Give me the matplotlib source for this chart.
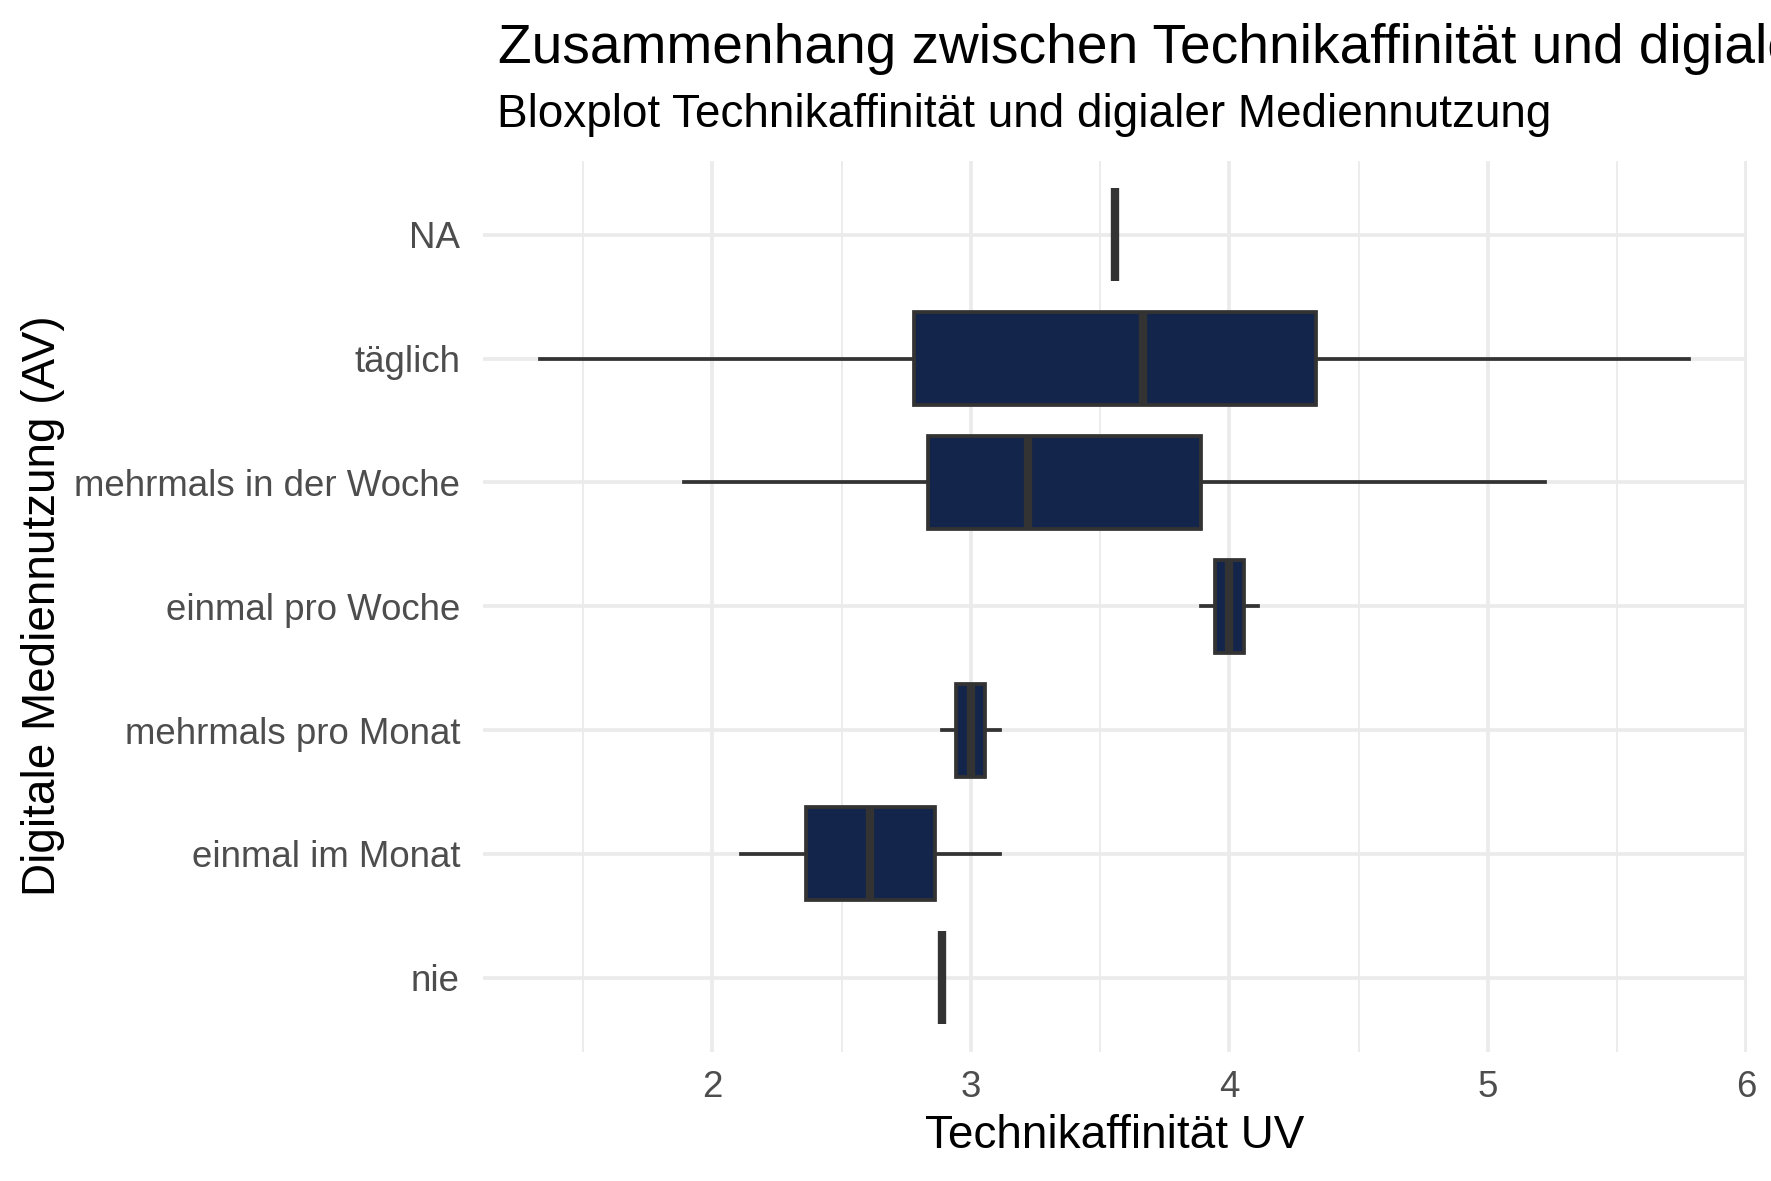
import matplotlib.pyplot as plt
from matplotlib.ticker import MultipleLocator

plt.rcParams['font.family'] = ['Liberation Sans', 'DejaVu Sans']

# === Daten ===
kategorien = ["nie", "einmal im Monat", "mehrmals pro Monat", "einmal pro Woche",
              "mehrmals in der Woche", "täglich", "NA"]
whisk_lo = [2.889, 2.111, 2.889, 3.889, 1.889, 1.333, 3.556]
q1       = [2.889, 2.361, 2.944, 3.944, 2.833, 2.778, 3.556]
median   = [2.889, 2.611, 3.000, 4.000, 3.222, 3.667, 3.556]
q3       = [2.889, 2.861, 3.056, 4.056, 3.889, 4.333, 3.556]
whisk_hi = [2.889, 3.111, 3.111, 4.111, 5.222, 5.778, 3.556]
x_ticks = [2, 3, 4, 5, 6]

titel = "Zusammenhang zwischen Technikaffinität und digialer Mediennutzung"
untertitel = "Bloxplot Technikaffinität und digialer Mediennutzung"

FILL = "#13254A"
EDGE = "#333333"
GRID = "#EBEBEB"

W, H = 1771, 1181
fig = plt.figure(figsize=(W / 300, H / 300), dpi=300)
ax = fig.add_axes([482.6 / W, 1 - 1052 / H, (1746.5 - 482.6) / W, (1052 - 160.5) / H])

stats = []
for i, name in enumerate(kategorien):
    stats.append({"label": name, "whislo": whisk_lo[i], "q1": q1[i], "med": median[i],
                  "q3": q3[i], "whishi": whisk_hi[i], "fliers": []})

ax.bxp(stats, positions=range(1, len(kategorien) + 1), widths=0.75, vert=False,
       patch_artist=True, showcaps=False, showfliers=False,
       boxprops=dict(facecolor=FILL, edgecolor=EDGE, linewidth=0.9),
       whiskerprops=dict(color=EDGE, linewidth=0.9),
       medianprops=dict(color=EDGE, linewidth=2.0, solid_capstyle="butt"))

# Achsen wie theme_minimal
lo, hi = min(whisk_lo), max(whisk_hi)
pad = 0.05 * (hi - lo)
ax.set_xlim(lo - pad, hi + pad)
ax.set_ylim(0.4, len(kategorien) + 0.6)
ax.set_xticks(x_ticks)
ax.xaxis.set_minor_locator(MultipleLocator(0.5))
ax.set_yticks(range(1, len(kategorien) + 1))
ax.set_yticklabels(kategorien)

for s in ax.spines.values():
    s.set_visible(False)
ax.set_axisbelow(True)
ax.grid(True, which="major", color=GRID, linewidth=0.9)
ax.grid(True, which="minor", axis="x", color=GRID, linewidth=0.45)
ax.tick_params(which="both", length=0)
ax.tick_params(axis="y", labelsize=8.8, labelcolor="#4D4D4D", pad=5.4)
ax.tick_params(axis="x", labelsize=8.8, labelcolor="#4D4D4D", pad=4.4)

# Beschriftungen
fig.text(1114.5 / W, 1 - 1148 / H, "Technikaffinität UV", fontsize=11,
         ha="center", va="baseline")
fig.text(43 / W, 1 - 606 / H, "Digitale Mediennutzung (AV)", fontsize=11,
         rotation=90, ha="center", va="center")
fig.text(498 / W, 1 - 63 / H, titel, fontsize=13.2, ha="left", va="baseline")
fig.text(497 / W, 1 - 127 / H, untertitel, fontsize=11, ha="left", va="baseline")

plt.savefig("out.png", dpi=300)
